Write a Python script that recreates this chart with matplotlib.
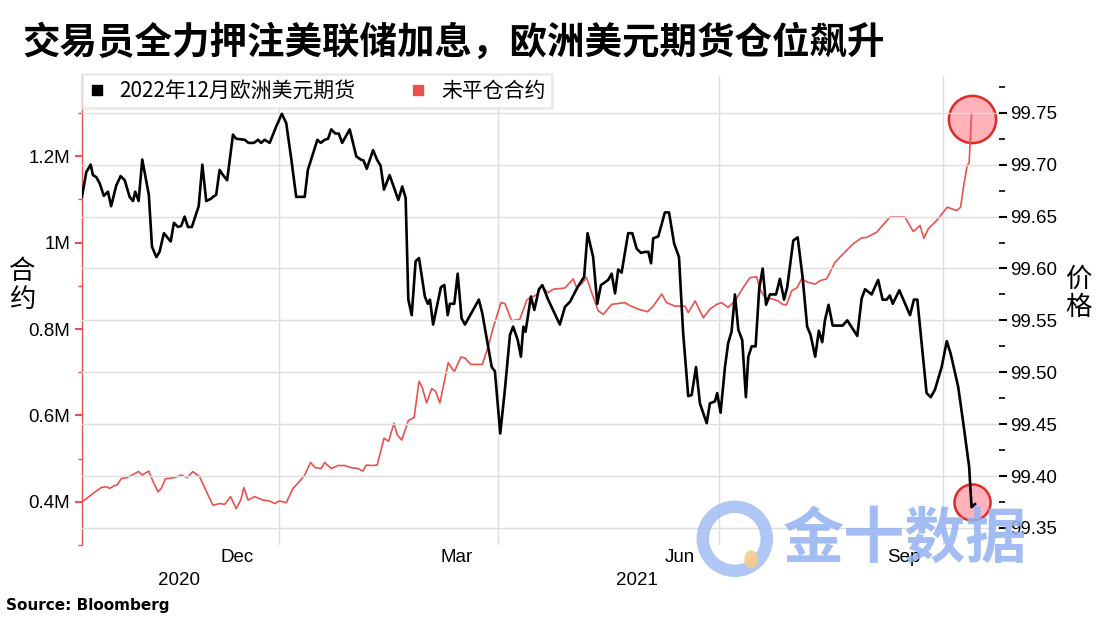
import numpy as np
import matplotlib
matplotlib.use('Agg')
from matplotlib import pyplot as plt
import matplotlib.dates as mdates
from matplotlib.patches import Ellipse
from datetime import datetime

# x = dias desde 2020-10-12
black_days = [0, 1.8, 3.6, 4.5, 5.9, 7.3, 9.0, 10.7, 12.0, 14.1,
              15.9, 17.6, 19.6, 21.0, 21.9, 23.3, 24.8, 27.5, 28.8, 30.6,
              31.9, 33.7, 36.5, 37.8, 39.5, 40.8, 42.2, 43.6, 45.2, 48.0,
              49.5, 51.1, 52.9, 53.9, 55.2, 56.6, 58.0, 59.7, 62.1, 63.4,
              66.9, 68.5, 70.7, 72.4, 73.7, 75.1, 77.2, 79.9, 82.2, 84.0,
              86.1, 88.1, 91.6, 92.9, 96.8, 98.2, 99.8, 101.2, 102.5, 104.2,
              105.6, 107.0, 110.1, 112.8, 114.6, 115.8, 117.1, 119.7, 121.3, 122.8,
              124.2, 126.5, 128.3, 130.1, 131.7, 133.1, 134.2, 135.6, 137.2, 138.6,
              141.0, 142.2, 143.1, 144.4, 147.6, 149.0, 150.4, 151.3, 153.1, 154.5,
              156.1, 157.5, 163.2, 164.6, 168.5, 169.8, 172.0, 173.9, 176.0, 177.3,
              179.2, 180.5, 181.5, 182.4, 184.6, 186.0, 187.9, 189.3, 191.7, 196.5,
              198.6, 200.7, 203.8, 206.5, 207.9, 210.2, 211.9, 213.4, 216.4, 217.8,
              219.2, 220.5, 221.9, 224.6, 226.3, 228.1, 229.9, 231.5, 232.9, 234.0,
              234.9, 237.0, 239.7, 241.4, 243.5, 245.5, 247.2, 249.3, 250.7, 252.5,
              254.1, 256.9, 258.2, 260.3, 261.2, 262.6, 264.4, 265.7, 267.1, 268.5,
              269.9, 271.5, 273.0, 274.0, 275.4, 277.0, 278.5, 279.9, 281.3, 282.9,
              285.4, 287.0, 288.7, 290.0, 292.5, 294.3, 296.3, 298.2, 299.6, 301.5,
              303.0, 304.4, 305.5, 307.0, 308.7, 312.8, 314.7, 318.8, 320.6, 322.0,
              324.7, 327.4, 329.2, 330.9, 332.2, 333.4, 336.1, 340.5, 342.1, 343.5,
              347.3, 349.0, 350.7, 353.5, 355.6, 357.2, 360.3, 362.4, 364.8, 365.8, 367.2]
black_price = [99.669, 99.693, 99.700, 99.690, 99.688, 99.682, 99.670, 99.674, 99.660, 99.680,
               99.689, 99.685, 99.669, 99.665, 99.674, 99.665, 99.705, 99.671, 99.621, 99.611,
               99.616, 99.634, 99.626, 99.644, 99.640, 99.641, 99.650, 99.640, 99.640, 99.660,
               99.700, 99.665, 99.667, 99.669, 99.671, 99.695, 99.690, 99.685, 99.729, 99.725,
               99.724, 99.721, 99.721, 99.724, 99.721, 99.724, 99.721, 99.737, 99.749, 99.740,
               99.705, 99.669, 99.669, 99.695, 99.724, 99.721, 99.724, 99.725, 99.734, 99.730,
               99.730, 99.721, 99.734, 99.708, 99.705, 99.704, 99.696, 99.714, 99.705, 99.699,
               99.676, 99.690, 99.678, 99.666, 99.679, 99.668, 99.570, 99.555, 99.607, 99.610,
               99.573, 99.566, 99.570, 99.546, 99.582, 99.584, 99.555, 99.566, 99.566, 99.595,
               99.552, 99.546, 99.570, 99.557, 99.505, 99.501, 99.441, 99.483, 99.536, 99.544,
               99.531, 99.515, 99.544, 99.539, 99.573, 99.560, 99.580, 99.584, 99.570, 99.546,
               99.563, 99.568, 99.582, 99.592, 99.634, 99.611, 99.566, 99.584, 99.589, 99.595,
               99.576, 99.599, 99.596, 99.634, 99.634, 99.619, 99.615, 99.616, 99.616, 99.605,
               99.629, 99.631, 99.654, 99.654, 99.624, 99.611, 99.538, 99.477, 99.478, 99.505,
               99.470, 99.451, 99.470, 99.472, 99.480, 99.461, 99.505, 99.528, 99.539, 99.575,
               99.541, 99.531, 99.476, 99.515, 99.525, 99.525, 99.581, 99.600, 99.565, 99.575,
               99.575, 99.590, 99.570, 99.582, 99.627, 99.630, 99.592, 99.544, 99.536, 99.515,
               99.540, 99.529, 99.550, 99.565, 99.545, 99.545, 99.550, 99.535, 99.571, 99.580,
               99.575, 99.589, 99.570, 99.570, 99.574, 99.566, 99.579, 99.555, 99.570, 99.570,
               99.480, 99.476, 99.483, 99.505, 99.530, 99.518, 99.486, 99.451, 99.409, 99.370, 99.373]

red_days = [0, 1.1, 4.5, 7.9, 10.0, 11.4, 13.2, 14.5, 16.2, 18.6,
            21.0, 23.3, 24.7, 27.5, 29.2, 31.3, 32.6, 34.3, 38.1, 40.8,
            43.3, 45.6, 48.4, 51.8, 53.9, 56.6, 58.7, 61.1, 63.4, 65.3,
            66.6, 68.3, 71.0, 74.4, 77.2, 79.2, 81.3, 84.0, 86.8, 88.8,
            91.6, 94.0, 95.9, 98.4, 99.8, 102.5, 105.3, 108.0, 110.7, 113.5,
            115.5, 116.9, 119.0, 121.4, 124.2, 126.1, 128.3, 129.6, 131.5, 134.2,
            136.6, 138.6, 139.9, 141.7, 143.8, 145.4, 147.2, 150.6, 153.1, 155.8,
            157.5, 159.9, 164.6, 167.1, 169.1, 172.3, 173.9, 176.7, 180.1, 182.9,
            184.9, 187.0, 189.0, 191.5, 193.8, 198.6, 202.0, 203.4, 205.5, 207.5,
            209.8, 212.3, 214.4, 217.8, 223.3, 224.6, 228.7, 232.6, 234.9, 238.4,
            240.4, 243.8, 247.9, 249.3, 252.1, 255.5, 258.2, 261.0, 263.0, 265.7,
            268.5, 271.9, 274.7, 277.4, 278.8, 280.8, 283.6, 286.3, 288.1, 289.7,
            291.8, 294.1, 295.9, 298.6, 301.4, 303.5, 306.2, 309.6, 313.0, 317.1,
            320.6, 322.6, 326.8, 332.2, 338.4, 341.8, 343.2, 344.6, 346.2, 348.0,
            351.4, 355.8, 359.7, 361.3, 362.7, 364.0, 364.8, 365.8]
# millones de contratos
red_oi = [0.400, 0.404, 0.419, 0.433, 0.435, 0.431, 0.437, 0.439, 0.454, 0.456,
          0.463, 0.470, 0.462, 0.471, 0.447, 0.423, 0.431, 0.453, 0.456, 0.462,
          0.456, 0.470, 0.458, 0.416, 0.392, 0.396, 0.394, 0.412, 0.384, 0.404,
          0.433, 0.404, 0.412, 0.404, 0.402, 0.396, 0.402, 0.398, 0.431, 0.443,
          0.462, 0.491, 0.479, 0.477, 0.491, 0.477, 0.484, 0.484, 0.479, 0.477,
          0.471, 0.485, 0.484, 0.485, 0.547, 0.540, 0.582, 0.555, 0.543, 0.588,
          0.595, 0.679, 0.665, 0.629, 0.662, 0.656, 0.629, 0.722, 0.701, 0.735,
          0.733, 0.718, 0.718, 0.760, 0.803, 0.861, 0.859, 0.819, 0.823, 0.867,
          0.874, 0.879, 0.900, 0.884, 0.892, 0.895, 0.916, 0.896, 0.905, 0.919,
          0.881, 0.842, 0.834, 0.857, 0.861, 0.856, 0.846, 0.840, 0.853, 0.881,
          0.861, 0.853, 0.853, 0.838, 0.865, 0.826, 0.846, 0.857, 0.861, 0.850,
          0.865, 0.896, 0.919, 0.921, 0.892, 0.873, 0.870, 0.865, 0.857, 0.856,
          0.888, 0.896, 0.916, 0.908, 0.904, 0.912, 0.916, 0.954, 0.974, 0.997,
          1.011, 1.012, 1.024, 1.059, 1.059, 1.026, 1.032, 1.040, 1.010, 1.032,
          1.051, 1.082, 1.074, 1.082, 1.137, 1.179, 1.184, 1.299]

month_labels = ['Dec', 'Mar', 'Jun', 'Sep']
month_dates = ['2020-12-15', '2021-03-15', '2021-06-15', '2021-09-15']
quarter_dates = ['2021-01-01', '2021-04-01', '2021-07-01', '2021-10-01']
year_labels = ['2020', '2021']
year_dates = ['2020-11-21', '2021-05-28']
left_ticks = [0.4, 0.6, 0.8, 1.0, 1.2]
left_labels = ['0.4M', '0.6M', '0.8M', '1M', '1.2M']
right_ticks = [99.35, 99.40, 99.45, 99.50, 99.55, 99.60, 99.65, 99.70, 99.75]

ROJO = '#e8524e'
CJK = ['Noto Sans CJK SC', 'DejaVu Sans']
plt.rcParams['font.family'] = ['Liberation Sans', 'Noto Sans CJK SC']

def fecha(s):
    return mdates.date2num(datetime.strptime(s, '%Y-%m-%d'))

t0 = fecha('2020-10-12')
xb = t0 + np.array(black_days)
xr = t0 + np.array(red_days)

fig = plt.figure(figsize=(11, 6.2), dpi=100)
ax = fig.add_axes([0.0745, 0.121, 0.8335, 0.758])
ax2 = ax.twinx()

ax.plot(xr, red_oi, color=ROJO, lw=1.2, zorder=3)
ax.plot(xr[-1], red_oi[-1] - 0.012, 'o', ms=34, mfc=(1.0, 0.45, 0.5, 0.55),
        mec='#e02a2a', mew=1.8, zorder=2)
ax2.plot(xb, black_price, color='black', lw=1.9, zorder=3)
ax2.plot(xb[-2], black_price[-2] + 0.005, 'o', ms=26, mfc=(1.0, 0.45, 0.5, 0.55),
         mec='#e02a2a', mew=1.8, zorder=2)

ax.set_xlim(t0, t0 + 377)
ax.set_ylim(0.3, 1.388)
ax2.set_ylim(99.3336, 99.7864)

# eje izquierdo en rojo
for s in ['top', 'right', 'bottom']:
    ax.spines[s].set_visible(False)
    ax2.spines[s].set_visible(False)
ax2.spines['left'].set_visible(False)
ax.spines['left'].set_color(ROJO)
ax.spines['left'].set_linewidth(1.0)
ax.set_yticks(left_ticks)
ax.set_yticklabels(left_labels)
ax.set_yticks([0.3, 0.5, 0.7, 0.9, 1.1, 1.3], minor=True)
ax.tick_params(axis='y', which='major', colors=ROJO, labelcolor='black',
               labelsize=13.5, length=5, width=1.5)
ax.tick_params(axis='y', which='minor', colors=ROJO, length=3, width=1)

ax2.spines['right'].set_linewidth(1.5)
ax2.set_yticks(right_ticks)
ax2.set_yticklabels(['%.2f' % v for v in right_ticks])
ax2.set_yticks(np.arange(99.375, 99.78, 0.05), minor=True)
ax2.tick_params(axis='y', which='major', labelsize=13.5, length=6, width=1.5, pad=2)
ax2.tick_params(axis='y', which='minor', length=4, width=1.2)
ax2.yaxis.grid(True, color='#dedede', lw=1)
ax2.set_axisbelow(True)

ax.set_xticks([fecha(d) for d in month_dates])
ax.set_xticklabels(month_labels)
ax.set_xticks([fecha(d) for d in quarter_dates], minor=True)
ax.tick_params(axis='x', which='both', length=0, labelsize=13.5, pad=3)
ax.xaxis.grid(True, which='minor', color='#dedede', lw=1)
for lab, d in zip(year_labels, year_dates):
    ax.text(fecha(d), -0.075, lab, transform=ax.get_xaxis_transform(),
            ha='center', va='center', fontsize=13.5)

# leyenda
h1, = ax2.plot([], [], 's', color='black', ms=7)
h2, = ax2.plot([], [], 's', color=ROJO, ms=7)
leg = ax2.legend([h1, h2], ['2022年12月欧洲美元期货', '未平仓合约'], loc='upper left',
                 bbox_to_anchor=(0, 1.003), ncol=2, frameon=True, fancybox=False,
                 borderaxespad=0, handlelength=0.8, handletextpad=0.7,
                 columnspacing=2.6, borderpad=0.3,
                 prop={'family': CJK, 'size': 15})
leg.get_frame().set_facecolor('white')
leg.get_frame().set_edgecolor('#e6e6e6')
leg.get_frame().set_linewidth(2)

fig.text(0.02, 0.932, '交易员全力押注美联储加息，欧洲美元期货仓位飙升', family=CJK,
         fontsize=27, fontweight='bold', va='center', ha='left')
fig.text(0.02, 0.54, '合\n约', family=CJK, fontsize=19, ha='center', va='center',
         linespacing=1.05)
fig.text(0.98, 0.527, '价\n格', family=CJK, fontsize=19, ha='center', va='center',
         linespacing=1.05)
fig.text(0.005, 0.024, 'Source: Bloomberg', family='DejaVu Sans', fontweight='bold',
         fontsize=11, ha='left', va='center')

# marca de agua
fig.text(0.712, 0.129, '金十数据', family=CJK, fontsize=44, fontweight='bold',
         color='#93b2f3', alpha=0.85, ha='left', va='center')
fig.patches.append(Ellipse((0.668, 0.131), 64 / 1100, 64 / 620, transform=fig.transFigure,
                           fill=False, lw=9, ec='#a3bdf4', alpha=0.85))
fig.patches.append(Ellipse((0.683, 0.098), 14 / 1100, 18 / 620, transform=fig.transFigure,
                           fc='#f6cb8e', ec='none', alpha=0.9))

fig.savefig('out.png', dpi=100)
